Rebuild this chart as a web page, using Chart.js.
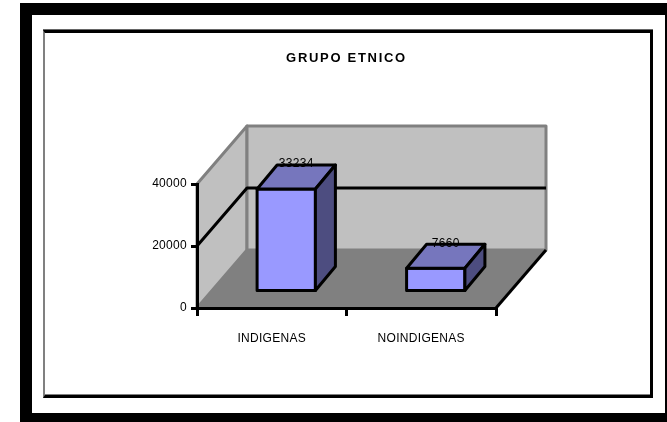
<!DOCTYPE html>
<html>
<head>
<meta charset="utf-8">
<title>Grupo etnico</title>
<script src="https://cdn.jsdelivr.net/npm/chart.js@4"></script>
<style>
html, body { margin: 0; padding: 0; background: #fff; overflow: hidden; }
#outer { position: absolute; left: 20px; top: 3px; width: 657px; height: 422px; box-sizing: border-box; border: 12px solid #000; }
#inner { position: absolute; left: 43px; top: 30px; width: 610px; height: 368px; box-sizing: border-box; border: 3px solid #000; border-left: 2px solid #808080; box-shadow: 0 -1px 0 #666, inset 0 -1px 0 #808080; }
canvas { position: absolute; left: 0; top: 0; }
</style>
</head>
<body>
<div id="outer"></div>
<div id="inner"></div>
<canvas id="grupo" width="667" height="422"></canvas>
<script>
const categorias = ['INDIGENAS', 'NOINDIGENAS'];
const valores = [33234, 7660];
const marcasY = [0, 20000, 40000];

// depth of the 3d box, in pixels
const fondo = { x: 50, y: -58 };
const barraFrente = { x: 14.5, y: -16 };
const barraLado = { x: 20, y: -24 };
const espaciado = '0.3px';

function poly(ctx, pts, fill, stroke, width) {
    ctx.beginPath();
    ctx.moveTo(pts[0][0], pts[0][1]);
    for (let i = 1; i < pts.length; i++) ctx.lineTo(pts[i][0], pts[i][1]);
    ctx.closePath();
    ctx.fillStyle = fill;
    ctx.fill();
    ctx.strokeStyle = stroke;
    ctx.lineWidth = width;
    ctx.lineJoin = 'round';
    ctx.stroke();
}

const caja3d = {
    id: 'caja3d',
    beforeDraw(chart) {
        const ctx = chart.ctx, a = chart.chartArea;
        ctx.letterSpacing = espaciado;
        // title gets wider spacing than the rest of the text
        const titulo = chart.titleBlock;
        if (!titulo.conEspacio) {
            const dibuja = titulo.draw.bind(titulo);
            titulo.draw = () => {
                ctx.letterSpacing = '1.7px';
                dibuja();
                ctx.letterSpacing = espaciado;
            };
            titulo.conEspacio = true;
        }
        const l = a.left, r = a.right, t = a.top, b = a.bottom;
        const dx = fondo.x, dy = fondo.y;
        ctx.save();
        poly(ctx, [[l, b], [l + dx, b + dy], [r + dx, b + dy], [r, b]], '#808080', '#808080', 1);
        poly(ctx, [[l, t], [l + dx, t + dy], [l + dx, b + dy], [l, b]], '#c0c0c0', '#808080', 3);
        poly(ctx, [[l + dx, t + dy], [r + dx, t + dy], [r + dx, b + dy], [l + dx, b + dy]], '#c0c0c0', '#808080', 3);
        // grid lines that run along the side and back walls
        ctx.strokeStyle = '#000';
        ctx.lineWidth = 3;
        marcasY.slice(1, -1).forEach(v => {
            const y = chart.scales.y.getPixelForValue(v);
            ctx.beginPath();
            ctx.moveTo(l, y);
            ctx.lineTo(l + dx, y + dy);
            ctx.lineTo(r + dx, y + dy);
            ctx.stroke();
        });
        // floor edge on the right
        ctx.beginPath();
        ctx.moveTo(r, b);
        ctx.lineTo(r + dx, b + dy);
        ctx.stroke();
        ctx.restore();
    },
    beforeDatasetsDraw(chart) {
        chart.ctx.save();
        chart.ctx.translate(barraFrente.x, barraFrente.y);
    },
    afterDatasetsDraw(chart) {
        const ctx = chart.ctx;
        const dx = barraLado.x, dy = barraLado.y;
        chart.getDatasetMeta(0).data.forEach((bar, i) => {
            const x0 = bar.x - bar.width / 2, x1 = bar.x + bar.width / 2;
            const y0 = bar.y, y1 = bar.base;
            poly(ctx, [[x0, y0], [x1, y0], [x1, y1], [x0, y1]], '#9999ff', '#000', 3);
            poly(ctx, [[x0, y0], [x0 + dx, y0 + dy], [x1 + dx, y0 + dy], [x1, y0]], '#7676bd', '#000', 3);
            poly(ctx, [[x1, y0], [x1 + dx, y0 + dy], [x1 + dx, y1 + dy], [x1, y1]], '#4d4d80', '#000', 3);
            ctx.fillStyle = '#000';
            ctx.font = '12px "Liberation Sans"';
            ctx.textAlign = 'center';
            ctx.textBaseline = 'middle';
            ctx.fillText(String(valores[i]), bar.x + 10, y0 + dy - 1);
        });
        ctx.restore();
    }
};

new Chart(document.getElementById('grupo'), {
    type: 'bar',
    data: {
        labels: categorias,
        datasets: [{
            data: valores,
            backgroundColor: '#9999ff',
            borderWidth: 0,
            barPercentage: 0.39,
            categoryPercentage: 1,
            clip: false
        }]
    },
    options: {
        responsive: false,
        animation: false,
        layout: { padding: { top: 51, right: 171, bottom: 0, left: 0 } },
        plugins: {
            legend: { display: false },
            tooltip: { enabled: false },
            title: {
                display: true,
                text: 'GRUPO ETNICO',
                fullSize: false,
                color: '#000',
                font: { family: '"Liberation Sans"', size: 13, weight: 'bold' },
                padding: { top: 0, bottom: 117.4 }
            }
        },
        scales: {
            x: {
                afterFit(s) { s.height = 114; },
                grid: { offset: true, drawOnChartArea: false, color: '#000', lineWidth: 3, tickLength: 8 },
                border: { color: '#000', width: 3 },
                ticks: {
                    color: '#000',
                    padding: 15,
                    maxRotation: 0,
                    font: { family: '"Liberation Sans"', size: 12 }
                }
            },
            y: {
                min: 0,
                max: 40000,
                afterFit(s) { s.width = 197; },
                afterBuildTicks(s) { s.ticks = marcasY.map(v => ({ value: v })); },
                grid: { drawOnChartArea: false, color: '#000', lineWidth: 3, tickLength: 6 },
                border: { color: '#000', width: 3 },
                ticks: {
                    color: '#000',
                    padding: 4,
                    callback: v => String(v),
                    font: { family: '"Liberation Sans"', size: 12 }
                }
            }
        }
    },
    plugins: [caja3d]
});
</script>
</body>
</html>
